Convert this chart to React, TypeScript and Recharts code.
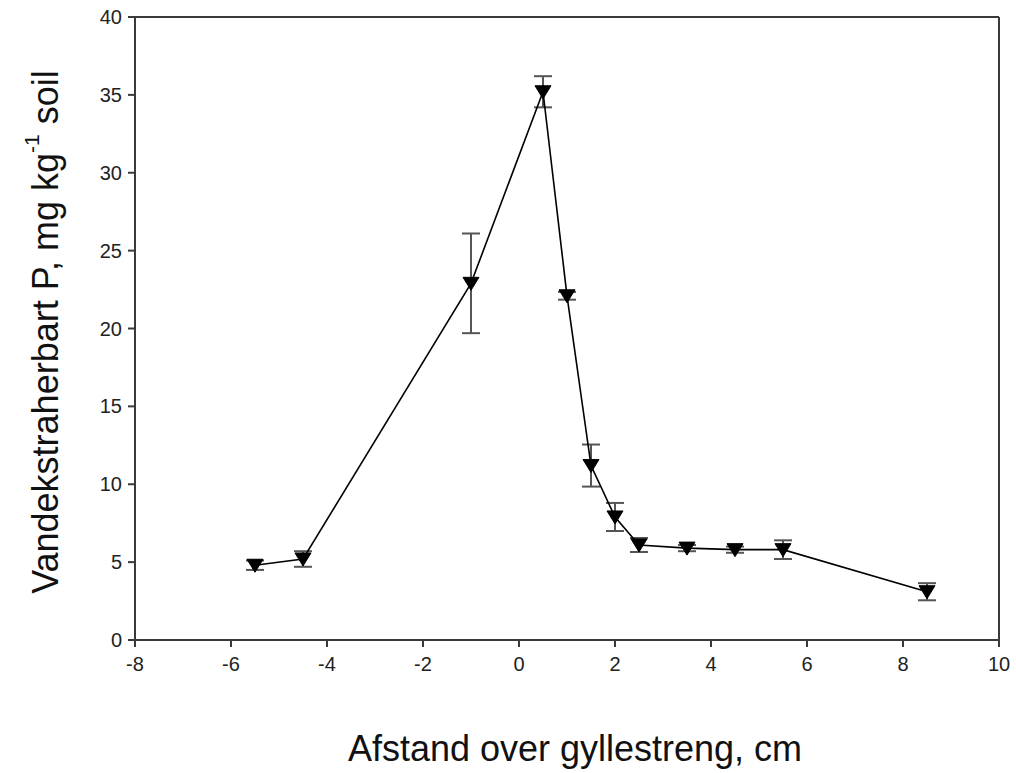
import React from "react";
import {
  LineChart,
  Line,
  XAxis,
  YAxis,
  ErrorBar,
  ReferenceLine,
  Label,
} from "recharts";

const distances = [-5.5, -4.5, -1, 0.5, 1, 1.5, 2, 2.5, 3.5, 4.5, 5.5, 8.5];
const phosphorus = [4.8, 5.2, 22.9, 35.2, 22.1, 11.2, 7.9, 6.1, 5.9, 5.8, 5.8, 3.1];
const errors = [0.3, 0.5, 3.2, 1.0, 0.25, 1.35, 0.9, 0.45, 0.2, 0.2, 0.6, 0.55];

const xTicks = [-8, -6, -4, -2, 0, 2, 4, 6, 8, 10];
const yTicks = [0, 5, 10, 15, 20, 25, 30, 35, 40];

const data = distances.map((x, i) => ({ x, p: phosphorus[i], err: errors[i] }));

const FONT = "'Liberation Sans', Arial, sans-serif";
const AXIS = "#3a3a3a";

// filled downward triangle like the SigmaPlot symbol
const TriangleDot = (props: any) => {
  const { cx, cy, index } = props;
  if (cx == null || cy == null) return null;
  return (
    <path
      key={`dot-${index}`}
      d={`M${cx - 8},${cy - 6} L${cx + 8},${cy - 6} L${cx},${cy + 7} Z`}
      fill="#000"
      stroke="#000"
      strokeWidth={1}
    />
  );
};

const XTick = (props: any) => {
  const { x, y, payload } = props;
  return (
    <text x={x} y={y + 22} textAnchor="middle" fontFamily={FONT} fontSize={20} fill="#222">
      {payload.value}
    </text>
  );
};

const YTick = (props: any) => {
  const { x, y, payload } = props;
  return (
    <text x={x - 4} y={y + 7} textAnchor="end" fontFamily={FONT} fontSize={20} fill="#222">
      {payload.value}
    </text>
  );
};

const YTitle = () => (
  <text
    x={45}
    y={332}
    transform="rotate(-90 45 332)"
    textAnchor="middle"
    dominantBaseline="central"
    fontFamily={FONT}
    fontSize={36}
    fill="#111"
  >
    Vandekstraherbart P, mg kg
    <tspan dy={-14} fontSize={21}>-1</tspan>
    <tspan dy={14}> soil</tspan>
  </text>
);

const XTitle = () => (
  <text
    x={575}
    y={748}
    textAnchor="middle"
    dominantBaseline="central"
    fontFamily={FONT}
    fontSize={36}
    fill="#111"
  >
    Afstand over gyllestreng, cm
  </text>
);

export default function App() {
  return (
    <div style={{ position: "absolute", left: 0, top: 0, background: "#fff" }}>
      <LineChart
        width={1016}
        height={773}
        data={data}
        margin={{ top: 17, right: 17, bottom: 73, left: 60 }}
      >
        <XAxis
          type="number"
          dataKey="x"
          domain={[-8, 10]}
          ticks={xTicks}
          allowDataOverflow
          height={60}
          stroke={AXIS}
          strokeWidth={2}
          tickSize={7}
          tick={<XTick />}
          label={<Label content={<XTitle />} />}
        />
        <YAxis
          type="number"
          domain={[0, 40]}
          ticks={yTicks}
          allowDataOverflow
          width={75}
          stroke={AXIS}
          strokeWidth={2}
          tickSize={7}
          tick={<YTick />}
          label={<Label content={<YTitle />} />}
        />
        <ReferenceLine y={40} stroke={AXIS} strokeWidth={2} />
        <ReferenceLine x={10} stroke={AXIS} strokeWidth={2} />
        <Line
          type="linear"
          dataKey="p"
          stroke="#000"
          strokeWidth={1.6}
          dot={<TriangleDot />}
          activeDot={false}
          isAnimationActive={false}
        >
          <ErrorBar dataKey="err" direction="y" width={9} stroke="#555" strokeWidth={2} />
        </Line>
      </LineChart>
    </div>
  );
}
